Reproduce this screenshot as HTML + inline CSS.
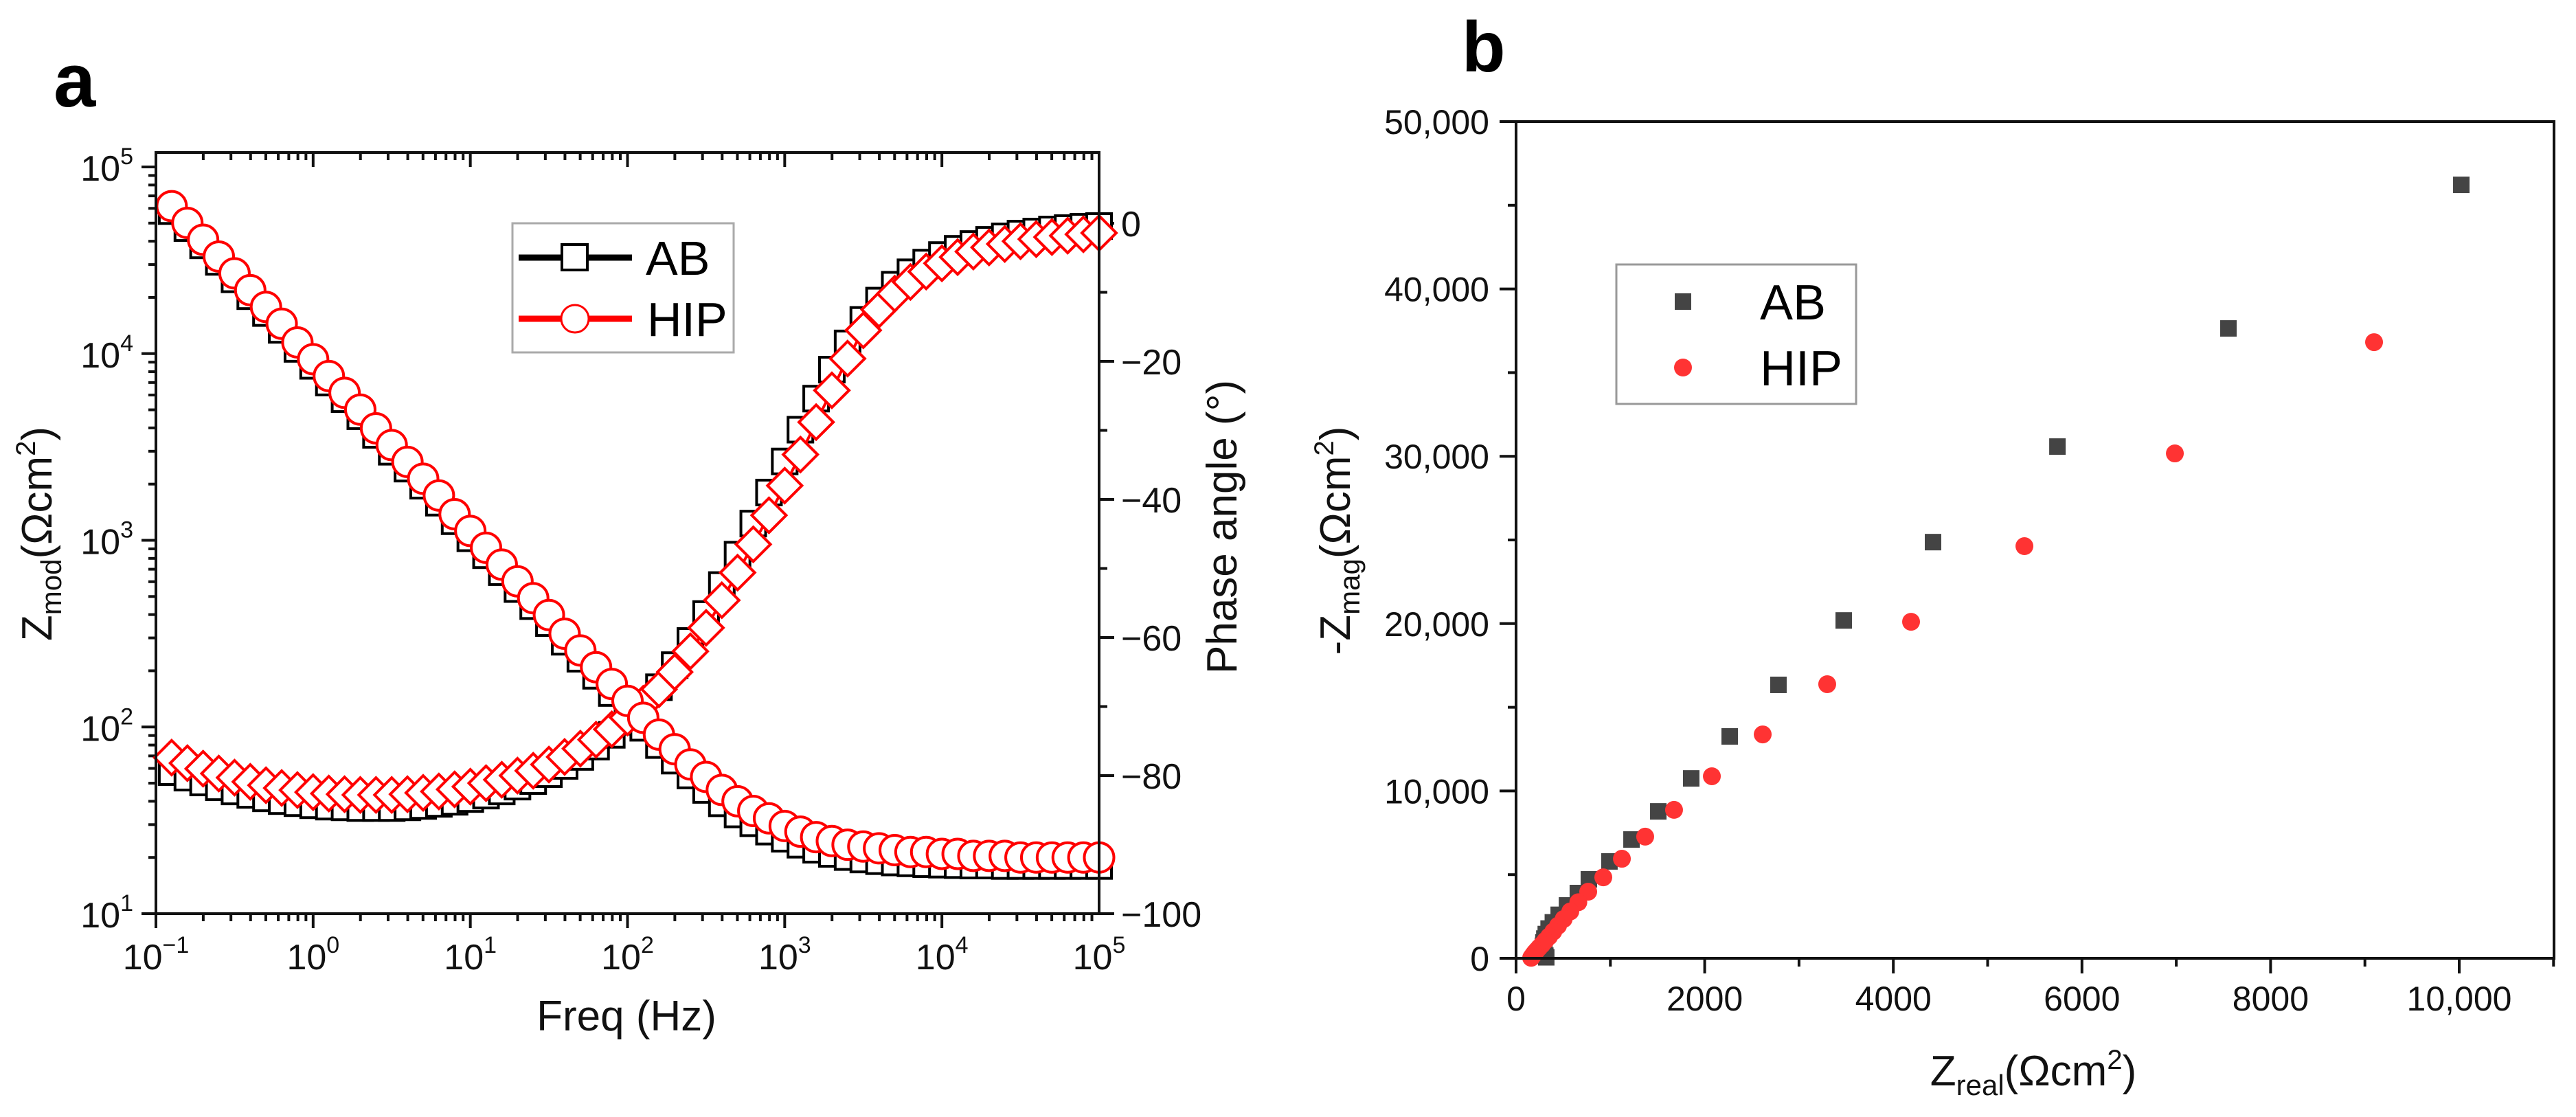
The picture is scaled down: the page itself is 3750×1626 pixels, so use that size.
<!DOCTYPE html>
<html><head><meta charset="utf-8"><style>
html,body{margin:0;padding:0;background:#fff;}
svg{display:block;font-family:"Liberation Sans",Arial,sans-serif;}
</style></head><body>
<svg id="fig" width="3750" height="1626" viewBox="0 0 3750 1626" xmlns="http://www.w3.org/2000/svg">
<rect width="3750" height="1626" fill="#fff"/>
<text x="78" y="155" font-size="110" font-weight="bold">a</text>
<text x="2128" y="104" font-size="104" font-weight="bold">b</text>
<g id="pa"></g>
<g id="pb"></g>
</svg>
<script>
// ---------- Panel a data ----------
const freqLog = [];
for (let k = 0; k < 60; k++) freqLog.push(-0.9 + 0.1 * k);
const zmodHIP = [61660,50119,40738,33113,26915,21878,17783,14454,11482,9333,7586,6166,5012,3981,3236,2630,2138,1738,1380,1122,912,741,603,490,398,316,257,209,170,138,112,91,76,63,54,46,40,35.5,32.4,29.5,27.5,25.7,24.5,23.4,22.9,22.4,21.9,21.4,21.4,20.9,20.9,20.4,20.4,20.4,20,20,20,20,20,20];
const zmodAB = [58000,47000,38000,31000,25000,20300,16500,13400,10600,8600,7000,5700,4620,3670,2980,2420,1960,1590,1265,1025,832,675,548,444,360,286,232,188,152,123,99,80,66,55,46,39,34,30.5,27.5,25.2,23.4,22.0,20.9,20.1,19.5,19.1,18.8,18.6,18.4,18.3,18.2,18.1,18.1,18.0,18.0,18.0,18.0,18.0,18.0,18.0];
const phaseHIP = [-77.4,-78.2,-79.0,-79.7,-80.3,-80.9,-81.4,-81.8,-82.1,-82.4,-82.6,-82.7,-82.8,-82.8,-82.8,-82.7,-82.5,-82.3,-82.0,-81.6,-81.1,-80.6,-80.0,-79.3,-78.4,-77.3,-76.1,-74.8,-73.3,-71.6,-69.6,-67.5,-65.0,-62.0,-58.6,-54.6,-50.6,-46.5,-42.3,-38.0,-33.5,-28.8,-24.2,-19.6,-15.5,-12.5,-10.2,-8.5,-7.0,-5.8,-4.9,-4.1,-3.5,-3.0,-2.6,-2.3,-2.0,-1.8,-1.6,-1.4];
const phaseAB = [-79.5,-80.3,-81.0,-81.7,-82.3,-82.8,-83.3,-83.7,-84.0,-84.3,-84.5,-84.6,-84.7,-84.7,-84.7,-84.6,-84.4,-84.1,-83.8,-83.4,-82.9,-82.3,-81.6,-80.8,-79.8,-78.6,-77.3,-75.8,-74.1,-72.2,-69.9,-67.2,-64.0,-60.5,-56.6,-52.4,-48.0,-43.5,-39.0,-34.5,-29.9,-25.4,-21.2,-17.4,-14.0,-11.2,-8.9,-7.1,-5.7,-4.6,-3.7,-3.0,-2.4,-1.9,-1.5,-1.2,-0.9,-0.7,-0.5,-0.4];
const xDecades = [-1,0,1,2,3,4,5];
const yDecades = [1,2,3,4,5];
const phaseTicks = [-100,-80,-60,-40,-20,0];

// ---------- Panel b data ----------
const abReal = [10022,7553,5740,4421,3474,2782,2265,1857,1508,1224,990,772,655,540,452,390,345,315,300,290,285,285,290,300,310,320];
const abImag = [46220,37640,30580,24870,20190,16340,13260,10750,8780,7100,5790,4720,3900,3160,2600,2150,1780,1450,1180,950,750,580,420,280,160,60];
const hipReal = [9097,6985,5390,4188,3299,2615,2076,1675,1369,1122,925,765,660,575,505,445,395,350,310,275,245,220,200,185,175,165,160];
const hipImag = [36820,30170,24630,20110,16380,13380,10880,8870,7270,5950,4840,3980,3350,2800,2350,1950,1600,1300,1050,820,640,480,350,240,150,80,30];
const bxTicks = [0,2000,4000,6000,8000,10000];
const bxLabels = ["0","2000","4000","6000","8000","10,000"];
const byTicks = [0,10000,20000,30000,40000,50000];
const byLabels = ["0","10,000","20,000","30,000","40,000","50,000"];

const NS = "http://www.w3.org/2000/svg";
function mk(parent, tag, attrs, text) {
  const e = document.createElementNS(NS, tag);
  for (const k in attrs) e.setAttribute(k, attrs[k]);
  if (text !== undefined) e.textContent = text;
  parent.appendChild(e);
  return e;
}

// ---------- Panel a ----------
const A = {L:227, R:1600, T:222, B:1330};
const ax = lf => A.L + (lf + 1) * (A.R - A.L) / 6;
const ayZ = z => A.B - (Math.log10(z) - 1) * 271.75;
const ayP = p => A.B - (p + 100) * 10.05;
const pa = document.getElementById('pa');

for (let d = -1; d < 5; d++) {
  for (let m = 1; m <= 9; m++) {
    const x = ax(d + Math.log10(m));
    const len = m === 1 ? 21 : 11;
    let t = mk(pa, 'line', {x1:x, x2:x, y1:A.B, y2:A.B + len, stroke:'#111', 'stroke-width':4});
    
    
    t = mk(pa, 'line', {x1:x, x2:x, y1:A.T, y2:A.T + len, stroke:'#111', 'stroke-width':4});
    
    
  }
}
for (let d = 1; d < 5; d++) {
  for (let m = 1; m <= 9; m++) {
    const y = ayZ(Math.pow(10, d) * m);
    const len = m === 1 ? 21 : 11;
    const t = mk(pa, 'line', {x1:A.L - len, x2:A.L, y1:y, y2:y, stroke:'#111', 'stroke-width':4});
    
    
  }
}
{
  const t = mk(pa, 'line', {x1:A.L - 21, x2:A.L, y1:ayZ(1e5), y2:ayZ(1e5), stroke:'#111', 'stroke-width':4});
  
  
}
for (let p = -100; p <= 0; p += 10) {
  const len = p % 20 === 0 ? 22 : 12;
  const t = mk(pa, 'line', {x1:A.R, x2:A.R + len, y1:ayP(p), y2:ayP(p), stroke:'#111', 'stroke-width':4});
  
  
}
xDecades.forEach(d => {
  const t = mk(pa, 'text', {x:ax(d), y:1411, 'font-size':52, 'text-anchor':'middle', fill:'#111'});
  
  
  mk(t, 'tspan', {}, '10');
  mk(t, 'tspan', {dy:-24, 'font-size':34}, d < 0 ? '\u2212' + (-d) : String(d));
});
yDecades.forEach(d => {
  const t = mk(pa, 'text', {x:194, y:ayZ(Math.pow(10, d)) + 20, 'font-size':52, 'text-anchor':'end', fill:'#111'});
  
  
  mk(t, 'tspan', {}, '10');
  mk(t, 'tspan', {dy:-24, 'font-size':34}, String(d));
});
phaseTicks.forEach(p => {
  const t = mk(pa, 'text', {x:1632, y:ayP(p) + 19, 'font-size':52, fill:'#111'}, p < 0 ? '\u2212' + (-p) : String(p));
  
  
});
{
  let t = mk(pa, 'text', {x:912, y:1500, 'font-size':62, 'text-anchor':'middle', fill:'#111'}, 'Freq (Hz)');
  
  
  t = mk(pa, 'text', {transform:'translate(75,777) rotate(-90)', 'font-size':62, 'text-anchor':'middle', fill:'#111'});
  
  
  mk(t, 'tspan', {}, 'Z');
  mk(t, 'tspan', {dy:14, 'font-size':42}, 'mod');
  mk(t, 'tspan', {dy:-14}, '(\u03A9cm');
  mk(t, 'tspan', {dy:-24, 'font-size':40}, '2');
  mk(t, 'tspan', {dy:24}, ')');
  t = mk(pa, 'text', {transform:'translate(1800,767) rotate(-90)', 'font-size':62, 'text-anchor':'middle', fill:'#111'}, 'Phase angle (\u00B0)');
  
  
}
function poly(parent, xs, ys, color, name) {
  const pts = xs.map((x, i) => x + ',' + ys[i]).join(' ');
  const p = mk(parent, 'polyline', {points:pts, fill:'none', stroke:color, 'stroke-width':4});
  
  
}
const xsA = freqLog.map(ax);
const SQ = 18;
poly(pa, xsA, phaseAB.map(ayP), '#000', 'ab-phase-line');
phaseAB.forEach((v, i) => {
  const r = mk(pa, 'rect', {x:xsA[i] - SQ, y:ayP(v) - SQ, width:2 * SQ, height:2 * SQ, fill:'#fff', stroke:'#000', 'stroke-width':4});
  
  
});
poly(pa, xsA, zmodAB.map(ayZ), '#000', 'ab-zmod-line');
zmodAB.forEach((v, i) => {
  const r = mk(pa, 'rect', {x:xsA[i] - SQ, y:ayZ(v) - SQ, width:2 * SQ, height:2 * SQ, fill:'#fff', stroke:'#000', 'stroke-width':4});
  
  
});
poly(pa, xsA, phaseHIP.map(ayP), '#f00', 'hip-phase-line');
phaseHIP.forEach((v, i) => {
  const x = xsA[i], y = ayP(v);
  const d = mk(pa, 'polygon', {points:`${x},${y-25} ${x+25},${y} ${x},${y+25} ${x-25},${y}`, fill:'#fff', stroke:'#f00', 'stroke-width':4});
  
  
});
poly(pa, xsA, zmodHIP.map(ayZ), '#f00', 'hip-zmod-line');
zmodHIP.forEach((v, i) => {
  const c = mk(pa, 'circle', {cx:xsA[i], cy:ayZ(v), r:21.5, fill:'#fff', stroke:'#f00', 'stroke-width':4});
  
  
});
{
  const f = mk(pa, 'rect', {x:A.L, y:A.T, width:A.R - A.L, height:A.B - A.T, fill:'none', stroke:'#111', 'stroke-width':4});
  
  
}
{
  const g = mk(pa, 'g', {});
  
  
  mk(g, 'rect', {x:746, y:325, width:322, height:188, fill:'#fff', stroke:'#aaa', 'stroke-width':3});
  mk(g, 'line', {x1:755, x2:920, y1:375, y2:375, stroke:'#000', 'stroke-width':9});
  mk(g, 'rect', {x:818, y:356, width:37, height:37, fill:'#fff', stroke:'#000', 'stroke-width':4});
  let t = mk(g, 'text', {x:940, y:400, 'font-size':70, fill:'#000'}, 'AB');
  
  
  mk(g, 'line', {x1:755, x2:920, y1:464, y2:464, stroke:'#f00', 'stroke-width':9});
  mk(g, 'circle', {cx:837, cy:464, r:20, fill:'#fff', stroke:'#f00', 'stroke-width':3});
  t = mk(g, 'text', {x:942, y:489, 'font-size':70, fill:'#000'}, 'HIP');
  
  
}

// ---------- Panel b ----------
const B = {L:2207, R:3718, T:177, B:1395};
const bx = v => B.L + v * 0.1373;
const by = v => B.B - v * (B.B - B.T) / 50000;
const pb = document.getElementById('pb');
for (let v = 0; v <= 11000; v += 1000) {
  const len = v % 2000 === 0 ? 22 : 12;
  const t = mk(pb, 'line', {x1:bx(v), x2:bx(v), y1:B.B, y2:B.B + len, stroke:'#111', 'stroke-width':4});
  
  
}
for (let v = 0; v <= 50000; v += 5000) {
  const len = v % 10000 === 0 ? 24 : 12;
  const t = mk(pb, 'line', {x1:B.L - len, x2:B.L, y1:by(v), y2:by(v), stroke:'#111', 'stroke-width':4});
  
  
}
bxTicks.forEach((v, i) => {
  const t = mk(pb, 'text', {x:bx(v), y:1471, 'font-size':50, 'text-anchor':'middle', fill:'#111'}, bxLabels[i]);
  
  
});
byTicks.forEach((v, i) => {
  const t = mk(pb, 'text', {x:2168, y:by(v) + 18, 'font-size':50, 'text-anchor':'end', fill:'#111'}, byLabels[i]);
  
  
});
{
  let t = mk(pb, 'text', {x:2960, y:1580, 'font-size':62, 'text-anchor':'middle', fill:'#111'});
  
  
  mk(t, 'tspan', {}, 'Z');
  mk(t, 'tspan', {dy:14, 'font-size':42}, 'real');
  mk(t, 'tspan', {dy:-14}, '(\u03A9cm');
  mk(t, 'tspan', {dy:-24, 'font-size':40}, '2');
  mk(t, 'tspan', {dy:24}, ')');
  t = mk(pb, 'text', {transform:'translate(1965,787) rotate(-90)', 'font-size':62, 'text-anchor':'middle', fill:'#111'});
  
  
  mk(t, 'tspan', {}, '-Z');
  mk(t, 'tspan', {dy:14, 'font-size':42}, 'mag');
  mk(t, 'tspan', {dy:-14}, '(\u03A9cm');
  mk(t, 'tspan', {dy:-24, 'font-size':40}, '2');
  mk(t, 'tspan', {dy:24}, ')');
}
abReal.forEach((v, i) => {
  const r = mk(pb, 'rect', {x:bx(v) - 12, y:by(abImag[i]) - 12, width:24, height:24, fill:'#444'});
  
  
});
hipReal.forEach((v, i) => {
  const c = mk(pb, 'circle', {cx:bx(v), cy:by(hipImag[i]), r:13, fill:'#f33'});
  
  
});
{
  const f = mk(pb, 'rect', {x:B.L, y:B.T, width:B.R - B.L, height:B.B - B.T, fill:'none', stroke:'#111', 'stroke-width':4});
  
  
  const g = mk(pb, 'g', {});
  
  
  mk(g, 'rect', {x:2353, y:385, width:349, height:203, fill:'#fff', stroke:'#999', 'stroke-width':3});
  mk(g, 'rect', {x:2438, y:427, width:24, height:24, fill:'#444'});
  let t = mk(g, 'text', {x:2562, y:465, 'font-size':72, fill:'#000'}, 'AB');
  
  
  mk(g, 'circle', {cx:2450, cy:535, r:13, fill:'#f33'});
  t = mk(g, 'text', {x:2562, y:561, 'font-size':72, fill:'#000'}, 'HIP');
  
  
}
</script>
</body></html>
